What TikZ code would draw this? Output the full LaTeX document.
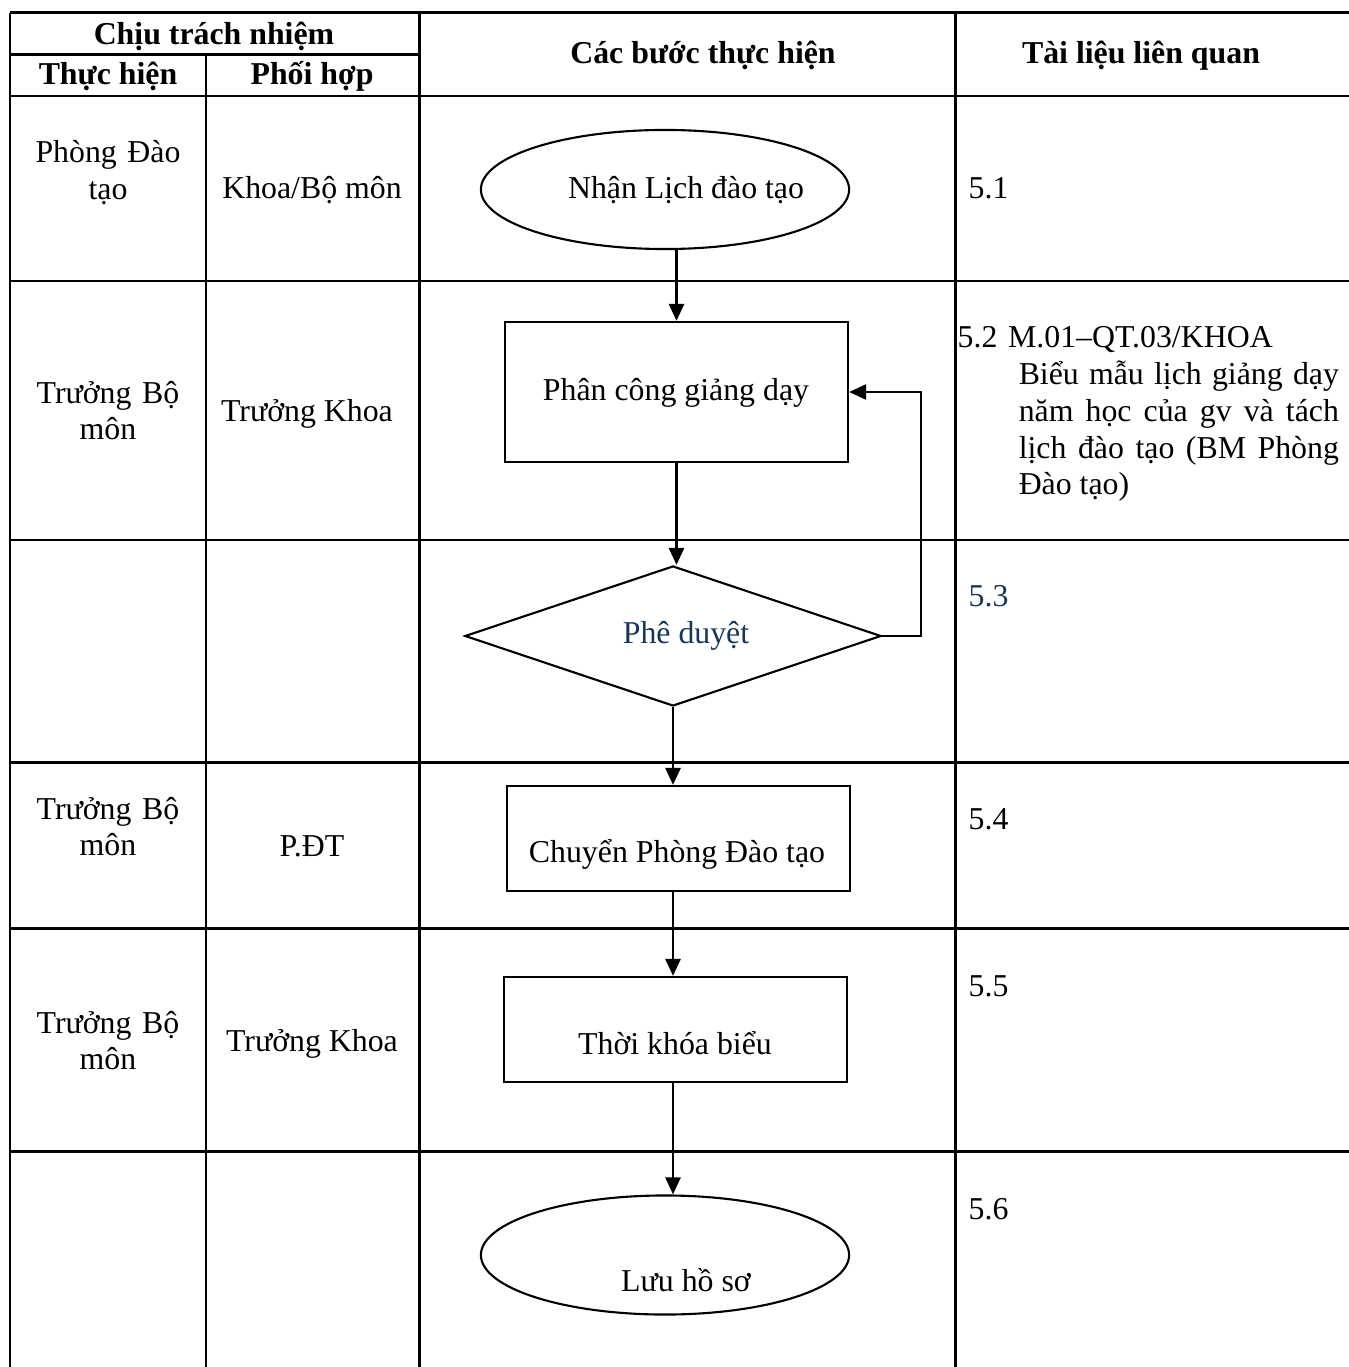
\documentclass[tikz,border=0pt]{standalone}
\usepackage{fontspec}
\setmainfont{Liberation Serif}
\usetikzlibrary{shapes.geometric,arrows.meta}
\definecolor{wordblue}{RGB}{23,54,93}
\begin{document}
\begin{tikzpicture}[x=0.01cm,y=-0.01cm,
  grid/.style={line width=0.85pt},
  shp/.style={draw,line width=0.6pt,inner sep=0pt},
  ell/.style={shp,ellipse,minimum width=3.68cm,minimum height=1.19cm},
  box/.style={shp,rectangle,minimum width=3.43cm},
  dia/.style={shp,diamond,minimum width=4.16cm,minimum height=1.40cm},
  txt/.style={inner sep=0pt,font=\fontsize{9.05}{10.45}\selectfont,anchor=base},
  hdr/.style={txt,font=\fontsize{9.05}{10.45}\selectfont\bfseries},
  two/.style={txt,text width=1.9cm,align=center},
  ref/.style={txt,anchor=base west},
  arr/.style={line width=0.75pt,-{Triangle[length=0.17cm,width=0.15cm]}}]
\useasboundingbox (0,0) rectangle (1349,1367);
% table grid
\draw[grid] (10,13) -- (1349,13);
\draw[grid] (10,55) -- (419,55);
\draw[grid] (10,96) -- (1349,96);
\foreach \yy in {281,540,762,928,1151} \draw[grid] (10,\yy) -- (1349,\yy);
\draw[grid] (10,13) -- (10,1367);
\draw[grid] (206,55) -- (206,1367);
\draw[grid] (419,13) -- (419,1367);
\draw[grid] (955,13) -- (955,1367);
% headers
\node[hdr] (h1) at (214,45) {Chịu trách nhiệm};
\node[hdr] (h2) at (108,85) {Thực hiện};
\node[hdr] (h3) at (312,85) {Phối hợp};
\node[hdr] (h4) at (703,64) {Các bước thực hiện};
\node[hdr] (h5) at (1141,64) {Tài liệu liên quan};
% left columns
\node[two] (a1) at (108,163) {Phòng Đào\\tạo};
\node[txt] (b1) at (312,199) {Khoa/Bộ môn};
\node[two] (a2) at (108,403) {Trưởng Bộ\\môn};
\node[txt] (b2) at (307,421) {Trưởng Khoa};
\node[two] (a4) at (108,819) {Trưởng Bộ\\môn};
\node[txt] (b4) at (312,856) {P.ĐT};
\node[two] (a5) at (108,1033) {Trưởng Bộ\\môn};
\node[txt] (b5) at (312,1051) {Trưởng Khoa};
% right column
\node[ref] (c1) at (968,199) {5.1};
\node[ref,text width=3.81cm,anchor=base west] (c2) at (957,348)
  {\parindent=0pt 5.2 M.01–QT.03/KHOA\par
   \leftskip=0.61cm\rightskip=0pt\spaceskip=0.25em plus 1em minus 0.15em
   Biểu mẫu lịch giảng dạy\linebreak năm học của gv và tách\linebreak lịch đào tạo (BM Phòng\linebreak Đào tạo)\par};
\node[ref,text=wordblue] (c3) at (968,606) {5.3};
\node[ref] (c4) at (968,829) {5.4};
\node[ref] (c5) at (968,996) {5.5};
\node[ref] (c6) at (968,1219) {5.6};
% flow shapes
\node[ell] (e1) at (665,189.5) {};
\node[txt] (t1) at (686,199) {Nhận Lịch đào tạo};
\node[box,minimum height=1.40cm] (r1) at (676.5,392) {};
\node[txt] (t2) at (676,400) {Phân công giảng dạy};
\node[dia] (d) at (673,636) {};
\node[txt,text=wordblue] (t3) at (686,643) {Phê duyệt};
\node[box,minimum height=1.05cm] (r2) at (678.5,838.5) {};
\node[txt] (t4) at (677,862) {Chuyển Phòng Đào tạo};
\node[box,minimum height=1.05cm] (r3) at (675.5,1029.5) {};
\node[txt] (t5) at (675,1054) {Thời khóa biểu};
\node[ell] (e2) at (665,1255) {};
\node[txt] (t6) at (686,1291) {Lưu hồ sơ};
\coordinate (fb) at (921,0);
% connectors
\draw[arr] (r1.north |- e1.south) -- (r1.north);
\draw[arr] (r1.south) -- (r1.south |- d.north);
\draw[arr] (d.east) -- (d.east -| fb) |- (r1.east);
\draw[arr] (d.south) -- (d.south |- r2.north);
\draw[arr] (r2.south -| d.south) -- (r3.north -| d.south);
\draw[arr] (r3.south -| d.south) -- (e2.north -| d.south);
\end{tikzpicture}
\end{document}
